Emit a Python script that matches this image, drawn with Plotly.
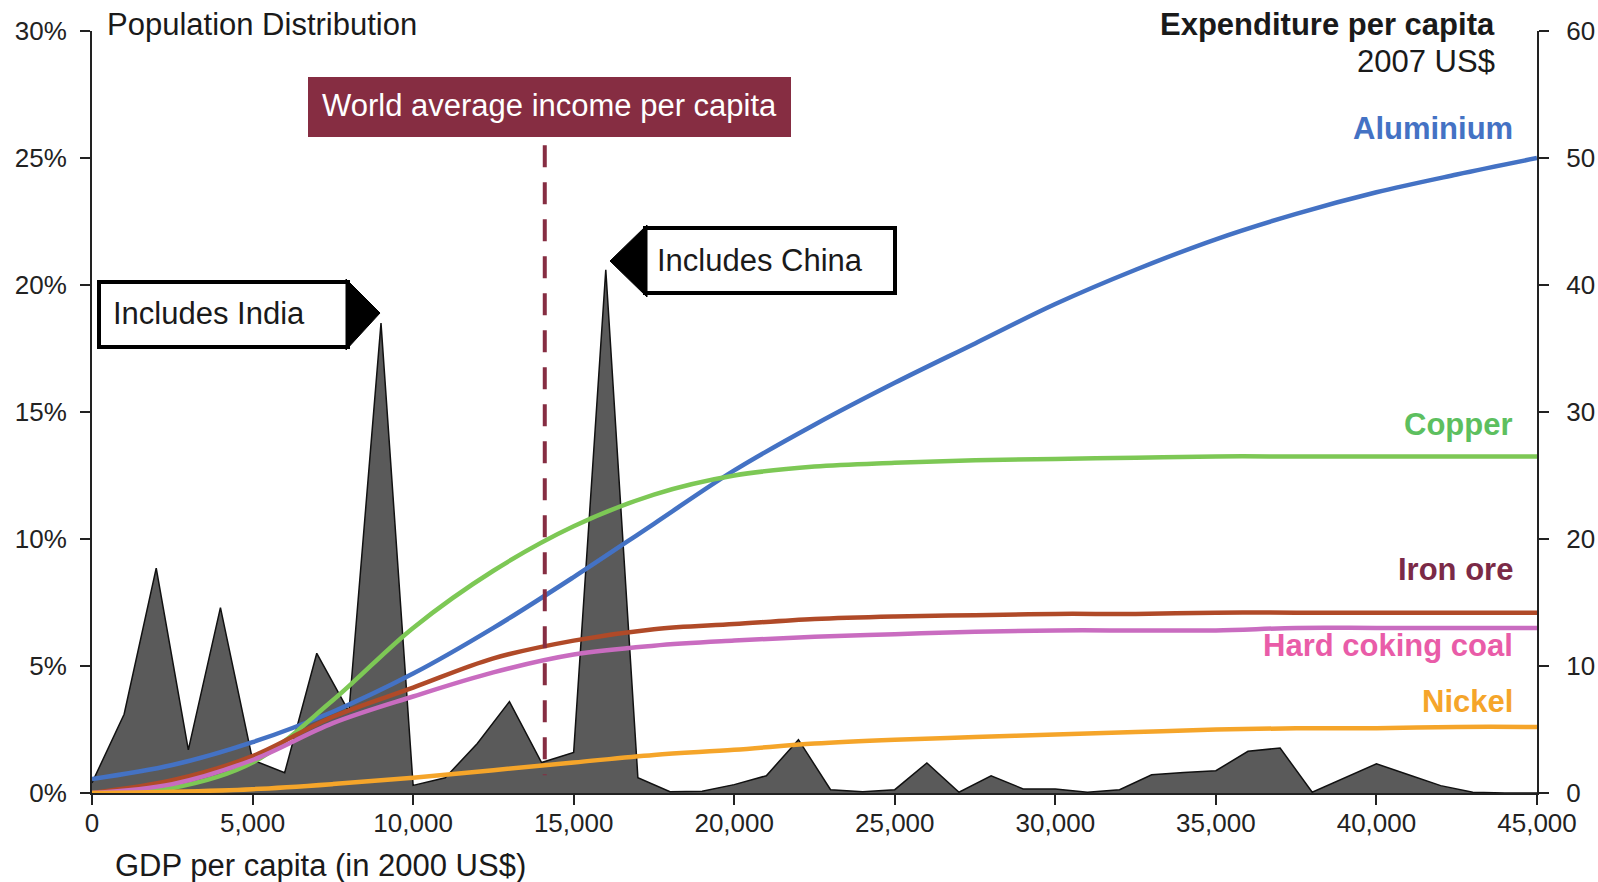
import plotly.graph_objects as go

# GDP per capita grid for the population distribution (2000 US$)
gdp_pop = list(range(0, 46000, 1000))
# Share of world population at each income level (%)
pop_share = [0.4, 3.1, 8.85, 1.7, 7.3, 1.3, 0.8, 5.5, 3.2, 18.5,
             0.3, 0.6, 1.95, 3.6, 1.2, 1.6, 20.6, 0.6, 0.05, 0.07,
             0.33, 0.68, 2.1, 0.13, 0.05, 0.13, 1.18, 0.03, 0.68, 0.16,
             0.16, 0.03, 0.13, 0.72, 0.81, 0.88, 1.64, 1.77, 0.03, 0.6,
             1.15, 0.72, 0.29, 0.03, 0.0, 0.0]

# GDP per capita grid for the expenditure curves
gdp_exp = list(range(0, 47500, 2500))
# Expenditure per capita, 2007 US$
aluminium = [1.1, 2.2, 4.0, 6.4, 9.4, 13.0, 17.0, 21.2, 25.4, 29.0,
             32.3, 35.4, 38.5, 41.2, 43.6, 45.6, 47.3, 48.7, 50.0]
copper = [0.0, 0.4, 2.4, 7.3, 13.0, 17.5, 21.0, 23.5, 25.0, 25.7,
          26.0, 26.2, 26.3, 26.4, 26.5, 26.5, 26.5, 26.5, 26.5]
iron_ore = [0.0, 1.0, 2.9, 6.0, 8.3, 10.6, 12.0, 12.9, 13.3, 13.7,
            13.9, 14.0, 14.1, 14.1, 14.2, 14.2, 14.2, 14.2, 14.2]
coking_coal = [0.0, 0.7, 2.6, 5.5, 7.6, 9.5, 10.9, 11.6, 12.0, 12.3,
               12.5, 12.7, 12.8, 12.8, 12.8, 13.0, 13.0, 13.0, 13.0]
nickel = [0.0, 0.1, 0.3, 0.7, 1.2, 1.8, 2.4, 3.0, 3.4, 3.9,
          4.2, 4.4, 4.6, 4.8, 5.0, 5.1, 5.1, 5.2, 5.2]

world_avg_income = 14100

x_ticks = list(range(0, 50000, 5000))
left_ticks = [0, 0.05, 0.10, 0.15, 0.20, 0.25, 0.30]
right_ticks = [0, 10, 20, 30, 40, 50, 60]

FONT = "Liberation Sans, Arial, sans-serif"
W, H = 1598, 882
L, R, T, B = 92, 61, 31, 89
PW, PH = W - L - R, H - T - B


def px(x):
    return (x - L) / PW


def py(y):
    return (H - B - y) / PH


fig = go.Figure()

fig.add_trace(go.Scatter(
    x=gdp_pop, y=[v / 100 for v in pop_share], mode="lines",
    fill="tozeroy", fillcolor="#5a5a5a",
    line=dict(color="#111111", width=1.5), yaxis="y", hoverinfo="skip"))

series = [
    ("Aluminium", aluminium, "#4472c4"),
    ("Copper", copper, "#7dc855"),
    ("Iron ore", iron_ore, "#b04a28"),
    ("Hard coking coal", coking_coal, "#c96cc0"),
    ("Nickel", nickel, "#f5a52a"),
]
for name, vals, col in series:
    fig.add_trace(go.Scatter(
        x=gdp_exp, y=vals, mode="lines", name=name, yaxis="y2",
        line=dict(color=col, width=4.5, shape="spline", smoothing=1.0)))

axis_common = dict(showline=True, linecolor="#222222", linewidth=2,
                   ticks="outside", ticklen=10, tickwidth=1.5,
                   tickcolor="#222222", showgrid=False, zeroline=False,
                   automargin=False,
                   tickfont=dict(family=FONT, size=26, color="#222222"))

fig.update_layout(
    width=W, height=H,
    margin=dict(l=L, r=R, t=T, b=B, pad=0, autoexpand=False),
    plot_bgcolor="white", paper_bgcolor="white",
    showlegend=False,
    xaxis=dict(range=[0, 45000], tickvals=x_ticks, tickformat=",d",
               ticklabelstandoff=-4, **axis_common),
    yaxis=dict(range=[0, 0.30], tickvals=left_ticks, tickformat=".0%",
               ticklabelstandoff=8, **axis_common),
    yaxis2=dict(range=[0, 60], tickvals=right_ticks, overlaying="y",
                side="right", anchor="x", ticklabelstandoff=12,
                **axis_common),
)

shapes = []
# World average income marker
shapes.append(dict(type="line", xref="x", yref="y",
                   x0=world_avg_income, x1=world_avg_income,
                   y0=0.255, y1=0.007,
                   line=dict(color="#862d42", width=4, dash="22px,15px")))
shapes.append(dict(type="rect", xref="paper", yref="paper",
                   x0=px(308), x1=px(791), y0=py(137), y1=py(77),
                   fillcolor="#862d42", line=dict(width=0)))
# India callout
shapes.append(dict(type="rect", xref="paper", yref="paper",
                   x0=px(99), x1=px(348), y0=py(347), y1=py(282),
                   fillcolor="white", line=dict(color="#000000", width=4)))
shapes.append(dict(type="path", xref="paper", yref="paper",
                   path=f"M {px(346)},{py(279)} L {px(380)},{py(313)} "
                        f"L {px(346)},{py(350)} Z",
                   fillcolor="#000000", line=dict(color="#000000", width=1)))
# China callout
shapes.append(dict(type="rect", xref="paper", yref="paper",
                   x0=px(645), x1=px(895), y0=py(293), y1=py(228),
                   fillcolor="white", line=dict(color="#000000", width=4)))
shapes.append(dict(type="path", xref="paper", yref="paper",
                   path=f"M {px(647)},{py(225)} L {px(610)},{py(261)} "
                        f"L {px(647)},{py(297)} Z",
                   fillcolor="#000000", line=dict(color="#000000", width=1)))
fig.update_layout(shapes=shapes)


def note(text, x, y, xanchor="left", size=31, color="#1a1a1a", bold=False):
    if bold:
        text = f"<b>{text}</b>"
    fig.add_annotation(text=text, xref="paper", yref="paper",
                       x=px(x), y=py(y), xanchor=xanchor, yanchor="middle",
                       showarrow=False,
                       font=dict(family=FONT, size=size, color=color))


note("Population Distribution", 105, 24)
note("Expenditure per capita", 1497, 24, xanchor="right", bold=True)
note("2007 US$", 1497, 61, xanchor="right")
note("World average income per capita", 549, 105, xanchor="center",
     color="#ffffff")
note("Includes India", 111, 313)
note("Includes China", 655, 260)
note("GDP per capita (in 2000 US$)", 113, 865)

label_pos = [("Aluminium", 128, "#4472c4"), ("Copper", 424, "#5dbf5f"),
             ("Iron ore", 569, "#7b2a47"), ("Hard coking coal", 645, "#e95ca8"),
             ("Nickel", 701, "#f5a52a")]
for text, y, col in label_pos:
    note(text, 1515, y, xanchor="right", color=col, bold=True)

fig.write_html("out.html")
